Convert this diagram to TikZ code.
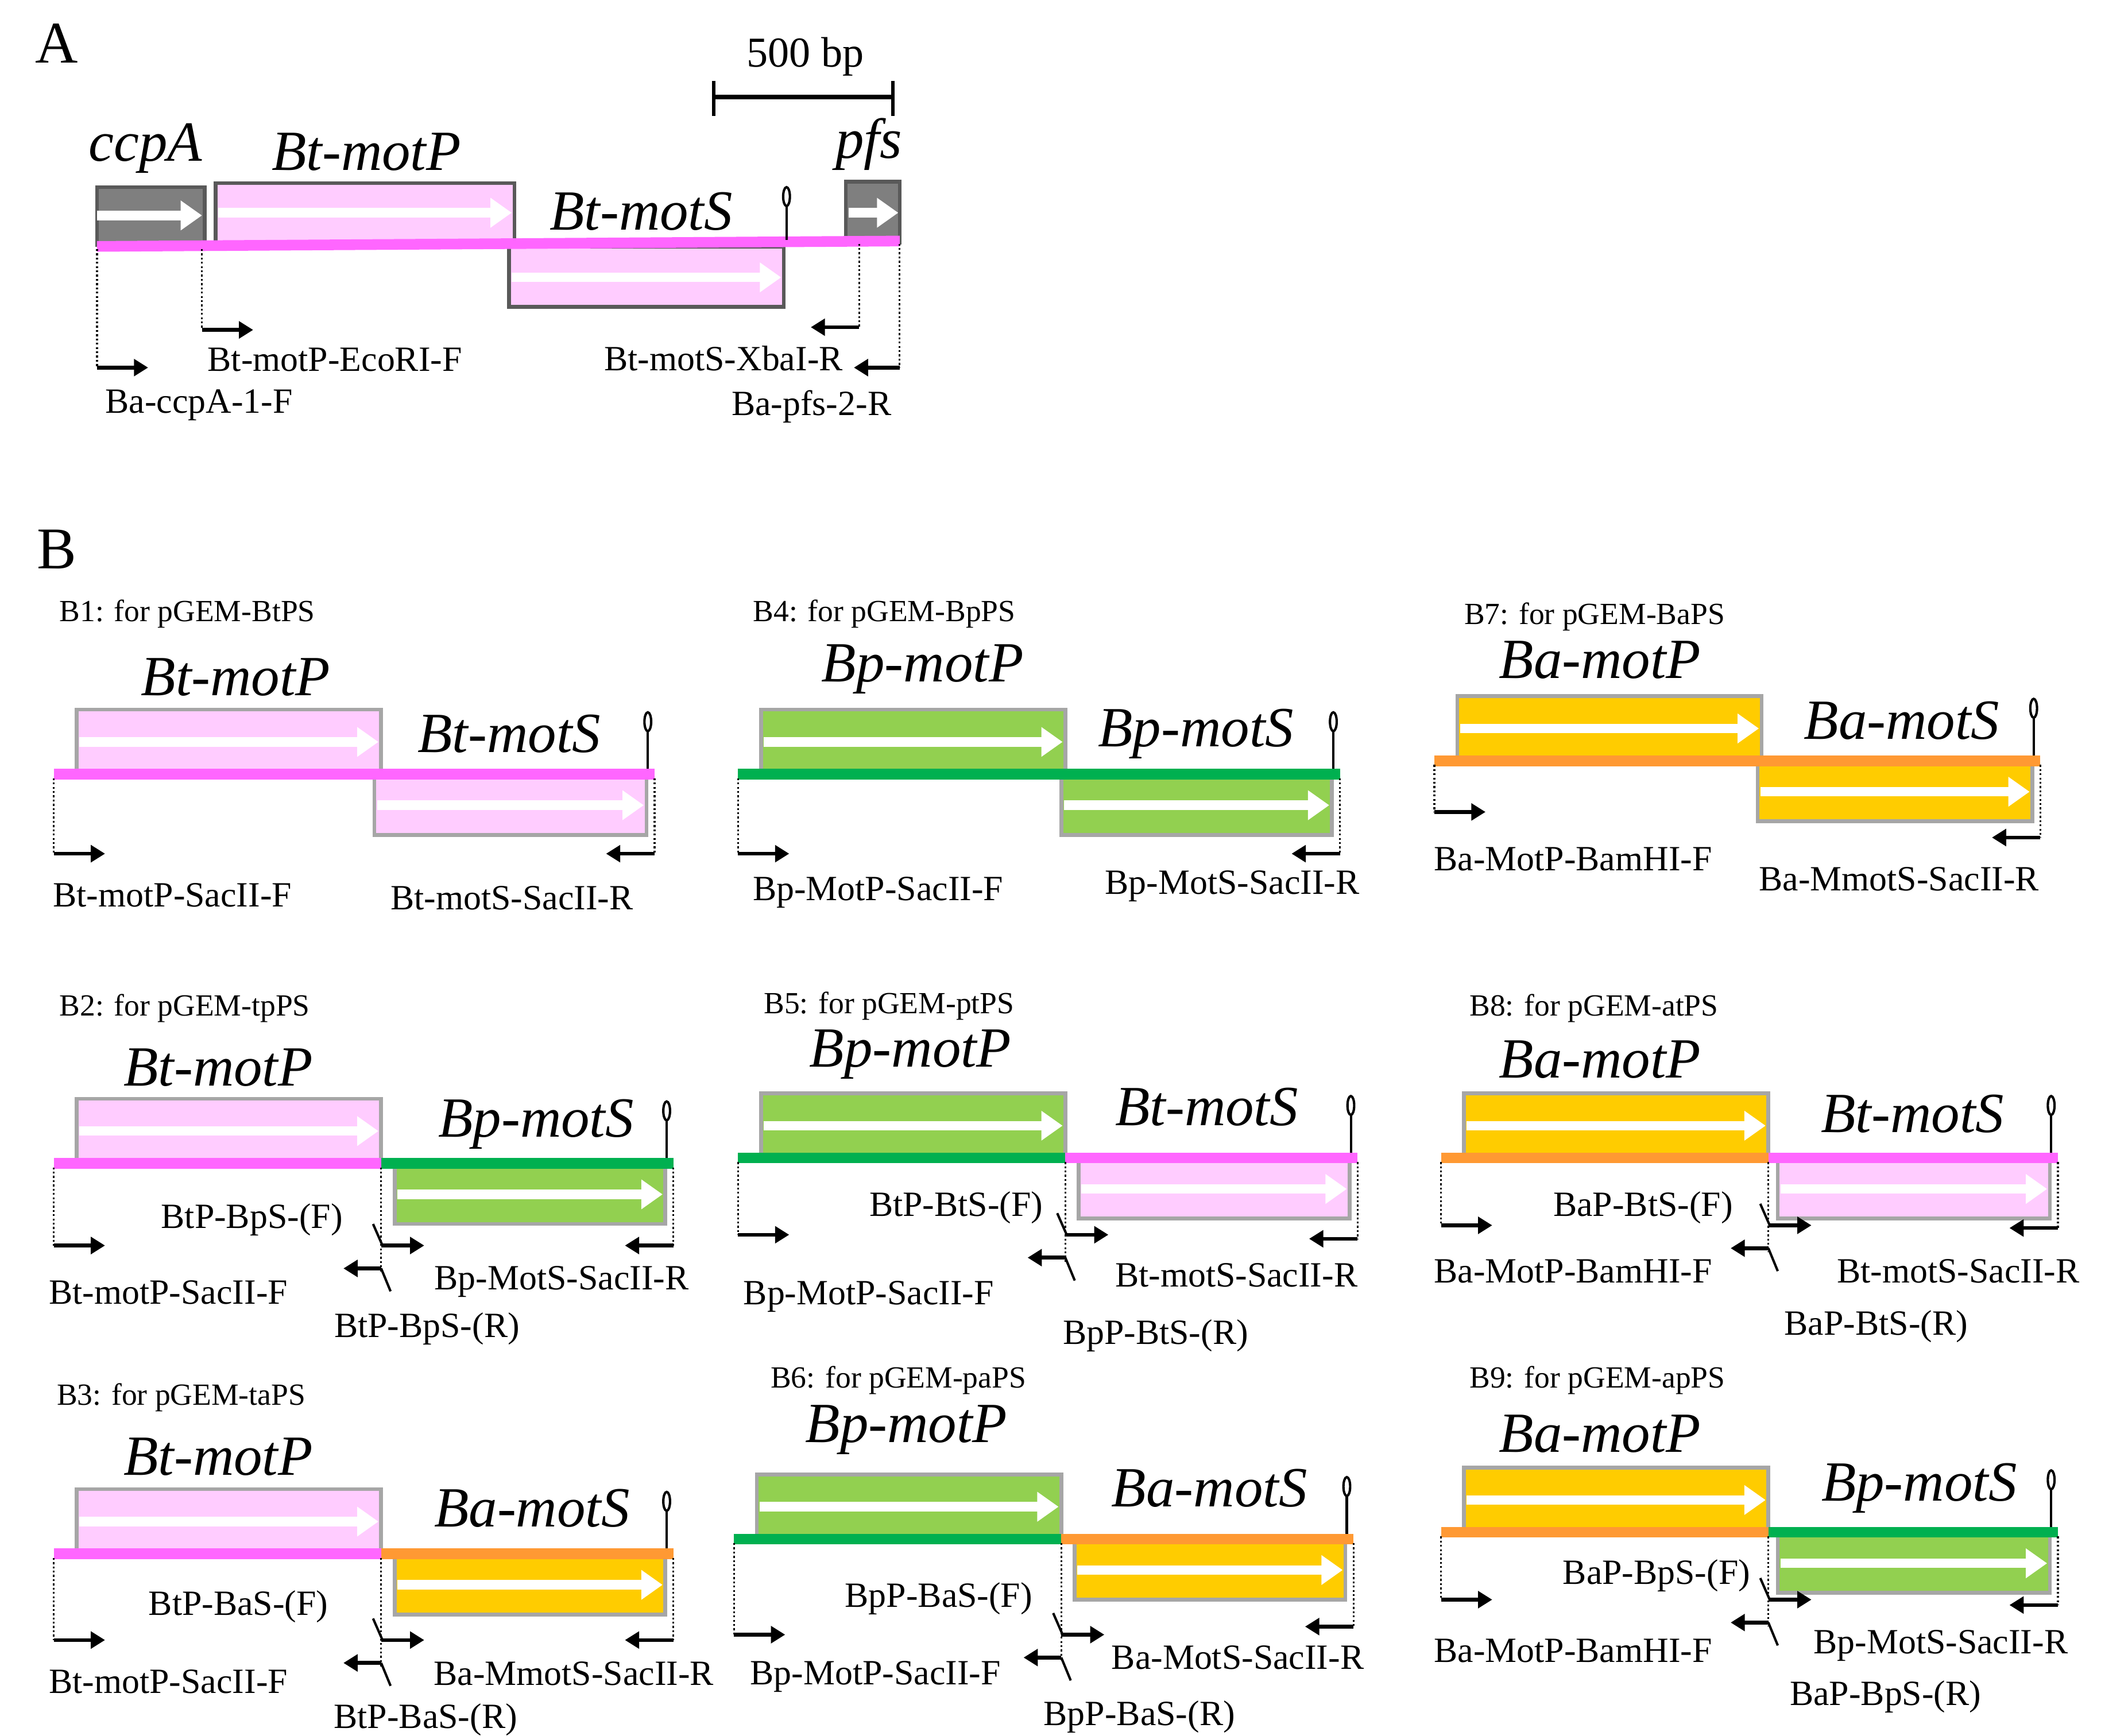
\documentclass[tikz,border=0pt]{standalone}
\usepackage{fontspec}
\setmainfont{Liberation Serif}
\usetikzlibrary{arrows.meta}
\definecolor{pinkfill}{HTML}{FFCCFF}
\definecolor{pinkline}{HTML}{FF66FF}
\definecolor{greenfill}{HTML}{92D050}
\definecolor{greenline}{HTML}{00B050}
\definecolor{yellowfill}{HTML}{FFCC00}
\definecolor{orangeline}{HTML}{FF9933}
\definecolor{boxgray}{HTML}{A6A6A6}
\definecolor{darkgray}{HTML}{595959}
\definecolor{midgray}{HTML}{7F7F7F}
\tikzset{
 gene/.style={font=\fontsize{24}{26}\selectfont\itshape},
 prim/.style={font=\fontsize{15}{17}\selectfont},
 ttl/.style={font=\fontsize{13}{15}\selectfont,anchor=west},
 big/.style={font=\fontsize{25}{27}\selectfont},
 gl/.style={line width=4.5pt},
 boxb/.style={draw=boxgray,line width=1.6pt},
 wa/.style={white,line width=4pt,-{Triangle[length=9pt,width=12pt]}},
 pa/.style={black,line width=1.6pt,-{Triangle[length=6pt,width=7pt]}},
 dl/.style={densely dotted,line width=0.8pt},
}
\newcommand\construct[9]{%
\begin{scope}[shift={(#1,#2)}]
 \filldraw[boxb,fill=#3] (17,70) rectangle (243,118);
 \draw[wa] (19,94) -- (241,94);
 \filldraw[boxb,fill=#4] (#7,118) rectangle ({#8-6},163);
 \draw[wa] ({#7+2},141) -- ({#8-8},141);
 \draw[gl,#5] (0,118) -- (243,118);
 \draw[gl,#6] (243,118) -- (#8,118);
 \draw[line width=1pt] ({#8-5},114) -- ({#8-5},86);
 \draw[line width=1pt] ({#8-5},79) ellipse [x radius=2.5, y radius=7];
 \draw[dl] (0,121) -- (0,\ay);
 \draw[dl] (#8,121) -- (#8,\by);
 \draw[pa] (0,\ay) -- (38,\ay);
 \draw[pa] (#8,\by) -- ({#8-36},\by);
 \ifnum#9=1
  \draw[dl] (243,121) -- (243,{\ay+20});
  \draw[line width=1pt] (237,{\ay-16}) -- (244,\ay);
  \draw[pa] (243,\ay) -- (275,\ay);
  \draw[line width=1pt] (243,{\ay+17}) -- (250,{\ay+34});
  \draw[pa] (243,{\ay+17}) -- (215,{\ay+17});
 \fi
\end{scope}}
\begin{document}
\begin{tikzpicture}[x=0.02cm,y=-0.02cm]
\useasboundingbox (0,0) rectangle (1560,1289);
% ---------- Panel A
\node[big] (lA) at (42,32) {A};
\node[font=\fontsize{18}{20}\selectfont] (bp) at (598,42) {500 bp};
\draw[line width=2pt] (530,72) -- (663,72);
\draw[line width=1.5pt] (530,60) -- (530,86);
\draw[line width=1.5pt] (663,60) -- (663,86);
\filldraw[fill=midgray,draw=darkgray,line width=1.6pt] (72,139) rectangle (152,182);
\draw[wa] (72,160) -- (150,160);
\filldraw[fill=pinkfill,draw=darkgray,line width=1.6pt] (160,136) rectangle (382,182);
\draw[wa] (162,158) -- (380,158);
\filldraw[fill=pinkfill,draw=darkgray,line width=1.6pt] (378,183) rectangle (582,228);
\draw[wa] (380,206) -- (580,206);
\filldraw[fill=midgray,draw=darkgray,line width=1.6pt] (628,135) rectangle (668,180);
\draw[wa] (630,158) -- (667,158);
\draw[gl,pinkline] (72,183) -- (668,179);
\draw[line width=1pt] (584,178) -- (584,152);
\draw[line width=1pt] (584,146) ellipse [x radius=2.5, y radius=7];
\node[gene] (ccpA) at (108,110) {ccpA};
\node[gene] (aP) at (272,113) {Bt-motP};
\node[gene] (aS) at (476,157) {Bt-motS};
\node[gene] (pfs) at (645,107) {pfs};
\draw[dl] (72,185) -- (72,273);
\draw[pa] (72,273) -- (110,273);
\node[prim,anchor=west] (p1) at (72,301) {Ba-ccpA-1-F};
\draw[dl] (150,185) -- (150,245);
\draw[pa] (150,245) -- (188,245);
\node[prim,anchor=west] (p2) at (148,267) {Bt-motP-EcoRI-F};
\draw[dl] (638,181) -- (638,243);
\draw[pa] (638,243) -- (602,243);
\node[prim,anchor=east] (p3) at (632,266) {Bt-motS-XbaI-R};
\draw[dl] (668,181) -- (668,273);
\draw[pa] (668,273) -- (634,273);
\node[prim,anchor=east] (p4) at (668,302) {Ba-pfs-2-R};
% ---------- Panel B
\node[big] (lB) at (42,408) {B};
% B1
\def\ay{177}\def\by{177}
\construct{40}{457}{pinkfill}{pinkfill}{pinkline}{pinkline}{238}{446}{0}
\node[ttl] (t1) at (38,456) {B1: for pGEM-BtPS};
\node[gene] (g1a) at (175,503) {Bt-motP};
\node[gene] (g1b) at (378,545) {Bt-motS};
\node[prim] (q1a) at (128,665) {Bt-motP-SacII-F};
\node[prim] (q1b) at (380,667) {Bt-motS-SacII-R};
% B4
\construct{548}{457}{greenfill}{greenfill}{greenline}{greenline}{240}{447}{0}
\node[ttl] (t4) at (553,456) {B4: for pGEM-BpPS};
\node[gene] (g4a) at (685,497) {Bp-motP};
\node[gene] (g4b) at (888,545) {Bp-motS};
\node[prim] (q4a) at (652,663) {Bp-MotP-SacII-F};
\node[prim] (q4b) at (915,658) {Bp-MotS-SacII-R};
% B7
\def\ay{156}\def\by{175}
\construct{1065}{447}{yellowfill}{yellowfill}{orangeline}{orangeline}{240}{450}{0}
\node[ttl] (t7) at (1081,458) {B7: for pGEM-BaPS};
\node[gene] (g7a) at (1188,490) {Ba-motP};
\node[gene] (g7b) at (1412,535) {Ba-motS};
\node[prim] (q7a) at (1168,638) {Ba-MotP-BamHI-F};
\node[prim] (q7b) at (1410,653) {Ba-MmotS-SacII-R};
% B2
\def\ay{179}\def\by{179}
\construct{40}{746}{pinkfill}{greenfill}{pinkline}{greenline}{253}{460}{1}
\node[ttl] (t2) at (38,749) {B2: for pGEM-tpPS};
\node[gene] (g2a) at (162,793) {Bt-motP};
\node[gene] (g2b) at (398,835) {Bp-motS};
\node[prim] (f2) at (187,906) {BtP-BpS-(F)};
\node[prim] (q2a) at (125,960) {Bt-motP-SacII-F};
\node[prim] (q2b) at (417,952) {Bp-MotS-SacII-R};
\node[prim] (r2) at (317,987) {BtP-BpS-(R)};
% B5
\def\ay{175}\def\by{178}
\construct{548}{742}{greenfill}{pinkfill}{greenline}{pinkline}{253}{460}{1}
\node[ttl] (t5) at (561,747) {B5: for pGEM-ptPS};
\node[gene] (g5a) at (676,783) {Bp-motP};
\node[gene] (g5b) at (896,822) {Bt-motS};
\node[prim] (f5) at (710,897) {BtP-BtS-(F)};
\node[prim] (q5a) at (645,963) {Bp-MotP-SacII-F};
\node[prim] (q5b) at (918,947) {Bt-motS-SacII-R};
\node[prim] (r5) at (858,992) {BpP-BtS-(R)};
% B8
\def\ay{168}\def\by{170}
\construct{1070}{742}{yellowfill}{pinkfill}{orangeline}{pinkline}{250}{458}{1}
\node[ttl] (t8) at (1085,749) {B8: for pGEM-atPS};
\node[gene] (g8a) at (1188,787) {Ba-motP};
\node[gene] (g8b) at (1420,827) {Bt-motS};
\node[prim] (f8) at (1220,897) {BaP-BtS-(F)};
\node[prim] (q8a) at (1168,944) {Ba-MotP-BamHI-F};
\node[prim] (q8b) at (1454,944) {Bt-motS-SacII-R};
\node[prim] (r8) at (1393,985) {BaP-BtS-(R)};
% B3
\def\ay{182}\def\by{182}
\construct{40}{1036}{pinkfill}{yellowfill}{pinkline}{orangeline}{253}{460}{1}
\node[ttl] (t3) at (36,1038) {B3: for pGEM-taPS};
\node[gene] (g3a) at (162,1082) {Bt-motP};
\node[gene] (g3b) at (395,1120) {Ba-motS};
\node[prim] (f3) at (177,1193) {BtP-BaS-(F)};
\node[prim] (q3a) at (125,1249) {Bt-motP-SacII-F};
\node[prim] (q3b) at (426,1243) {Ba-MmotS-SacII-R};
\node[prim] (r3) at (316,1277) {BtP-BaS-(R)};
% B6
\def\ay{189}\def\by{183}
\construct{545}{1025}{greenfill}{yellowfill}{greenline}{orangeline}{253}{460}{1}
\node[ttl] (t6) at (566,1025) {B6: for pGEM-paPS};
\node[gene] (g6a) at (673,1062) {Bp-motP};
\node[gene] (g6b) at (898,1105) {Ba-motS};
\node[prim] (f6) at (697,1187) {BpP-BaS-(F)};
\node[prim] (q6a) at (650,1245) {Bp-MotP-SacII-F};
\node[prim] (q6b) at (919,1231) {Ba-MotS-SacII-R};
\node[prim] (r6) at (846,1275) {BpP-BaS-(R)};
% B9
\def\ay{168}\def\by{172}
\construct{1070}{1020}{yellowfill}{greenfill}{orangeline}{greenline}{250}{458}{1}
\node[ttl] (t9) at (1085,1025) {B9: for pGEM-apPS};
\node[gene] (g9a) at (1188,1065) {Ba-motP};
\node[gene] (g9b) at (1425,1105) {Bp-motS};
\node[prim] (f9) at (1230,1170) {BaP-BpS-(F)};
\node[prim] (q9a) at (1168,1226) {Ba-MotP-BamHI-F};
\node[prim] (q9b) at (1441,1222) {Bp-MotS-SacII-R};
\node[prim] (r9) at (1400,1260) {BaP-BpS-(R)};
\end{tikzpicture}
\end{document}
